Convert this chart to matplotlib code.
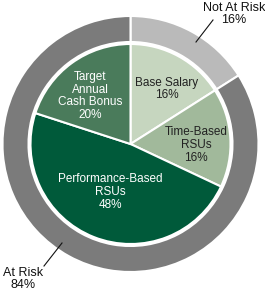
import matplotlib
matplotlib.use("Agg")
import matplotlib.pyplot as plt

plt.rcParams['font.family'] = ['Liberation Sans', 'DejaVu Sans']

# inner pie: pay components (%)
components = ["Base Salary", "Time-Based\nRSUs", "Performance-Based\nRSUs", "Target\nAnnual\nCash Bonus"]
comp_values = [16, 16, 48, 20]
comp_colors = ["#c6d6bf", "#a1b99b", "#005a3a", "#4a7b5b"]
comp_text = ["#222222", "#222222", "white", "white"]

# outer ring: risk split (%)
risk = ["Not At Risk", "At Risk"]
risk_values = [16, 84]
risk_colors = ["#bababa", "#7b7b7b"]

W, H = 265, 294
fig = plt.figure(figsize=(W / 100, H / 100), dpi=100)
ax = fig.add_axes([0, 0, 1, 1])

cx, cy = 130.5, 150
R = 128

ax.pie(risk_values, colors=risk_colors, startangle=90, counterclock=False,
       center=(cx, cy), radius=R, frame=True,
       wedgeprops=dict(width=26, edgecolor="white", linewidth=1.5))

ax.pie(comp_values, colors=comp_colors, startangle=90, counterclock=False,
       center=(cx, cy), radius=100, frame=True,
       wedgeprops=dict(edgecolor="white", linewidth=1.5))

# label positions inside the pie (pixels from top-left)
label_pos = [(167, 89), (196, 145), (110, 192), (90, 96)]
for name, v, (x, y), c in zip(components, comp_values, label_pos, comp_text):
    ax.text(x, H - y, f"{name}\n{v}%", ha="center", va="center", fontsize=8.5,
            color=c, linespacing=1.08)

ax.set_xlim(0, W)
ax.set_ylim(0, H)
ax.set_aspect("equal")
ax.axis("off")

# outer labels with leader lines
ax.text(234, H - 14, f"{risk[0]}\n{risk_values[0]}%", ha="center", va="center",
        fontsize=9, color="#111111", linespacing=1.0)
ax.plot([196, 213], [H - 42, H - 20], color="#111111", lw=0.8)
ax.text(23, H - 279, f"{risk[1]}\n{risk_values[1]}%", ha="center", va="center",
        fontsize=9, color="#111111", linespacing=1.0)
ax.plot([62, 44], [H - 243, H - 266], color="#111111", lw=0.8)

fig.savefig("out.png", dpi=100)
